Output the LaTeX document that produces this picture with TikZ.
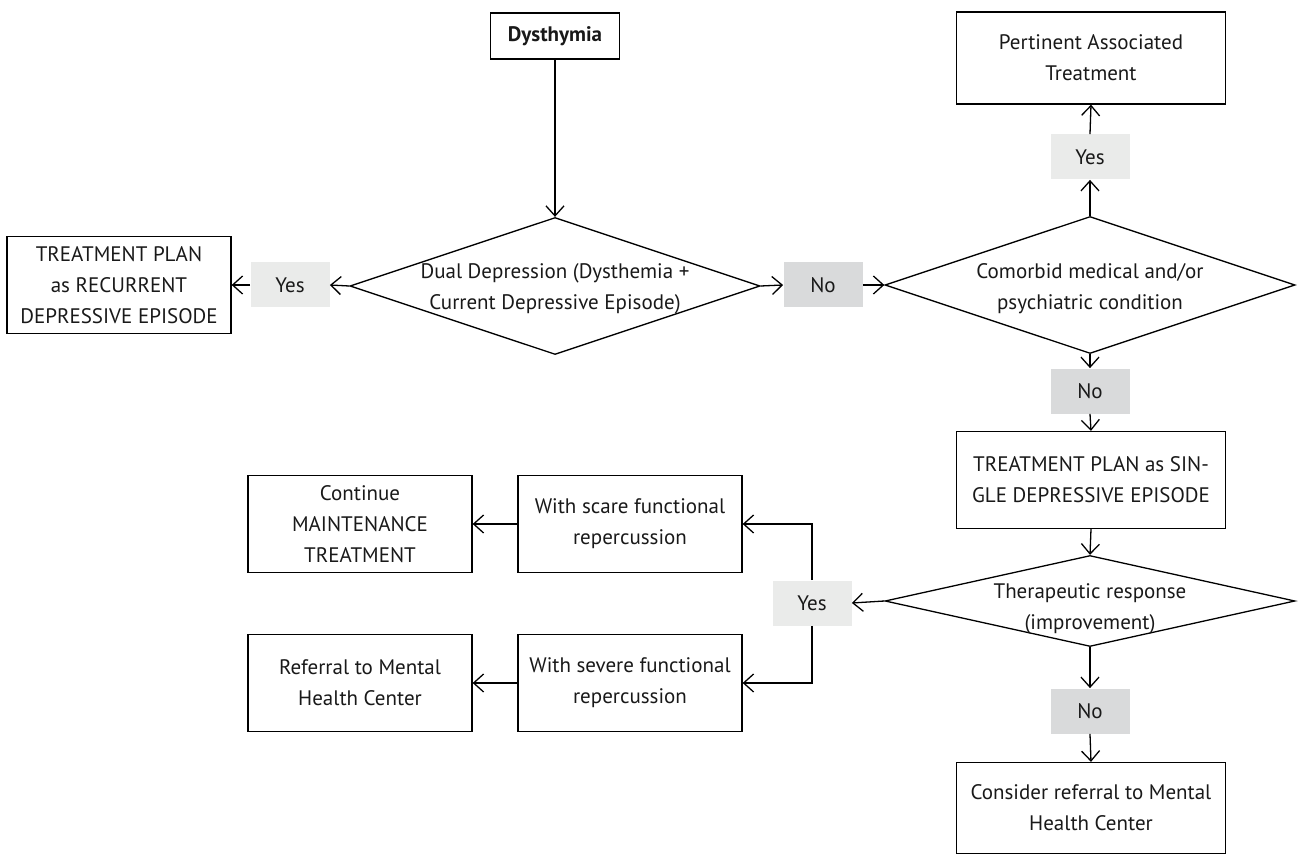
\documentclass[tikz,border=0pt]{standalone}
\usepackage{fontspec}
\setmainfont{PT Sans}
\usepackage{xcolor}
\usetikzlibrary{arrows.meta,positioning,shapes.geometric}
\definecolor{yesgray}{RGB}{234,235,234}
\definecolor{nogray}{RGB}{217,218,219}

\begin{document}
\begin{tikzpicture}[
  x=0.5pt, y=-0.5pt,
  every node/.style={font=\fontsize{10.5}{15.5}\selectfont, text=black!90},
  box/.style={draw, line width=0.65pt, align=center, inner sep=2pt,
              minimum width=112pt, minimum height=48.5pt},
  dia/.style={draw, line width=0.65pt, diamond, inner sep=0pt,
              minimum width=205pt, minimum height=68.5pt},
  diatxt/.style={align=center, inner sep=0pt},
  yeslbl/.style={fill=yesgray, minimum width=39.5pt, minimum height=22.5pt, inner sep=0pt},
  nolbl/.style={fill=nogray, minimum width=39.5pt, minimum height=22.5pt, inner sep=0pt},
  arr/.style={-{Straight Barb[length=5pt, width=9pt]}, line width=0.65pt}
]
\useasboundingbox (0,0) rectangle (1298,856);

% top row
\node[box, minimum width=64.5pt, minimum height=23pt] (dys) at (555,36) {\textbf{Dysthymia}};
\node[dia] (d1) at (555,286) {};
\node[diatxt] (d1txt) at (555,289) {Dual Depression (Dysthemia +\\ Current Depressive Episode)};
\node[yeslbl] (yes1) at (290,285) {Yes};
\node[box] (recur) at (119,285) {TREATMENT PLAN\\ as RECURRENT\\ DEPRESSIVE EPISODE};
\node[nolbl] (no1) at (823,285) {No};
\node[dia] (d2) at (1090,285) {};
\node[diatxt] (d2txt) at (1090,289) {Comorbid medical and/or\\ psychiatric condition};

% right column
\node[yeslbl] (yes2) at (1090,157) {Yes};
\node[box, minimum width=134.5pt, minimum height=46pt] (pert) at (1091,58)
  {Pertinent Associated\\ Treatment};
\node[nolbl] (no2) at (1090,391) {No};
\node[box, minimum width=134.5pt] (single) at (1091,480)
  {TREATMENT PLAN as SIN-\\ GLE DEPRESSIVE EPISODE};
\node[dia, minimum height=45.5pt] (d3) at (1090,601) {};
\node[diatxt] (d3txt) at (1090,609) {Therapeutic response\\ (improvement)};
\node[nolbl] (no3) at (1090,711) {No};
\node[box, minimum width=134.5pt, minimum height=45.5pt] (consider) at (1091,808)
  {Consider referral to Mental\\ Health Center};

% left branch
\node[yeslbl] (yes3) at (812,603) {Yes};
\node[box] (scare) at (630,524) {With scare functional\\ repercussion};
\node[box] (severe) at (630,683) {With severe functional\\ repercussion};
\node[box] (cont) at (360,524) {Continue\\ MAINTENANCE\\ TREATMENT};
\node[box] (refer) at (360,683) {Referral to Mental\\ Health Center};

\draw[arr] (dys.south) -- (d1.north);
\draw[arr] (d1.west) -- (yes1.east);
\draw[arr] (yes1.west) -- (recur.east);
\draw[arr] (d1.east) -- (no1.west);
\draw[arr] (no1.east) -- (d2.west);
\draw[arr] (d2.north) -- (yes2.south);
\draw[arr] (yes2.north) -- (pert.south);
\draw[arr] (d2.south) -- (no2.north);
\draw[arr] (no2.south) -- (single.north);
\draw[arr] (single.south) -- (d3.north);
\draw[arr] (d3.west) -- (yes3.east);
\draw[arr] (yes3.north) |- (scare.east);
\draw[arr] (yes3.south) |- (severe.east);
\draw[arr] (scare.west) -- (cont.east);
\draw[arr] (severe.west) -- (refer.east);
\draw[arr] (d3.south) -- (no3.north);
\draw[arr] (no3.south) -- (consider.north);
\end{tikzpicture}
\end{document}
